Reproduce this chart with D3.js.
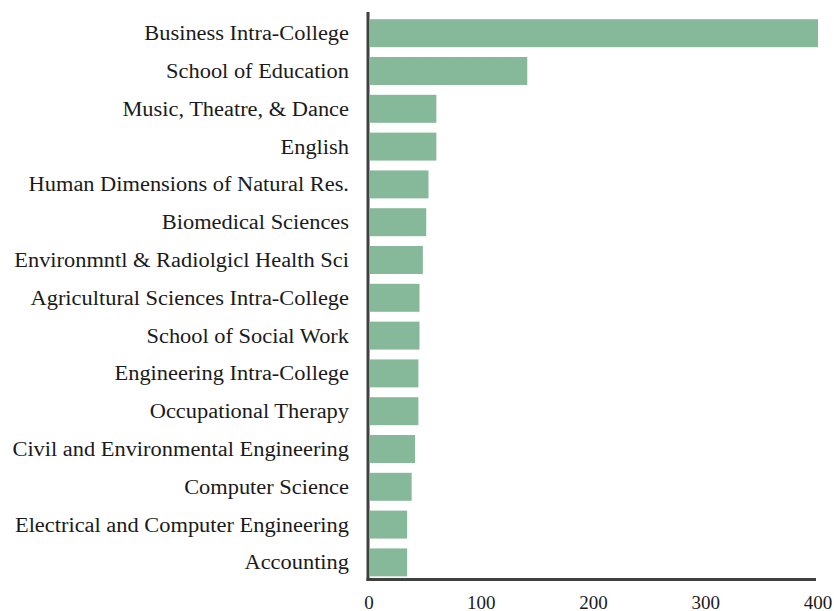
<!DOCTYPE html>
<html>
<head>
<meta charset="utf-8">
<script src="https://cdn.jsdelivr.net/npm/d3@7"></script>
<style>
  html, body { margin: 0; padding: 0; background: #fff; }
  svg { display: block; }
  text { font-family: "Liberation Serif", "DejaVu Serif", serif; fill: #1a1a1a; }
</style>
</head>
<body>
<svg id="chart" width="834" height="611"></svg>
<script>
const categories = [
  "Business Intra-College",
  "School of Education",
  "Music, Theatre, & Dance",
  "English",
  "Human Dimensions of Natural Res.",
  "Biomedical Sciences",
  "Environmntl & Radiolgicl Health Sci",
  "Agricultural Sciences Intra-College",
  "School of Social Work",
  "Engineering Intra-College",
  "Occupational Therapy",
  "Civil and Environmental Engineering",
  "Computer Science",
  "Electrical and Computer Engineering",
  "Accounting"
];
const values = [400, 141, 60, 60, 53, 51, 48, 45, 45, 44, 44, 41, 38, 34, 34];
const tickValues = [0, 100, 200, 300, 400];

const svg = d3.select("#chart");
const x0 = 369, x1 = 818;
const x = d3.scaleLinear().domain([0, 400]).range([x0, x1]);
const y = d3.scaleBand().domain(categories).range([14.3, 581.3]).paddingInner(0.26).paddingOuter(0.13);

const fontSize = 20;
const widen = 1.12;

svg.append("g").selectAll("rect")
  .data(categories)
  .enter().append("rect")
  .attr("x", x0 + 1)
  .attr("y", d => y(d))
  .attr("height", y.bandwidth())
  .attr("width", (d, i) => Math.max(0, x(values[i]) - x0 - 1))
  .attr("fill", "#86b99a");

// category labels
const labels = svg.append("g").selectAll("text")
  .data(categories)
  .enter().append("text")
  .attr("x", 349)
  .attr("y", d => y(d) + y.bandwidth() / 2)
  .attr("dy", "0.35em")
  .attr("text-anchor", "end")
  .style("font-size", fontSize + "px")
  .text(d => d);
labels.each(function() {
  const w = this.getComputedTextLength();
  d3.select(this).attr("textLength", w * widen).attr("lengthAdjust", "spacingAndGlyphs");
});

// axes lines
svg.append("line")
  .attr("x1", 368).attr("x2", 368)
  .attr("y1", 12).attr("y2", 581)
  .attr("stroke", "#404040").attr("stroke-width", 3);
svg.append("line")
  .attr("x1", 366.5).attr("x2", 816)
  .attr("y1", 579.5).attr("y2", 579.5)
  .attr("stroke", "#404040").attr("stroke-width", 3);

// tick labels
svg.append("g").selectAll("text")
  .data(tickValues)
  .enter().append("text")
  .attr("x", d => x(d))
  .attr("y", 608.5)
  .attr("text-anchor", "middle")
  .style("font-size", "19px")
  .text(d => d);
</script>
</body>
</html>
